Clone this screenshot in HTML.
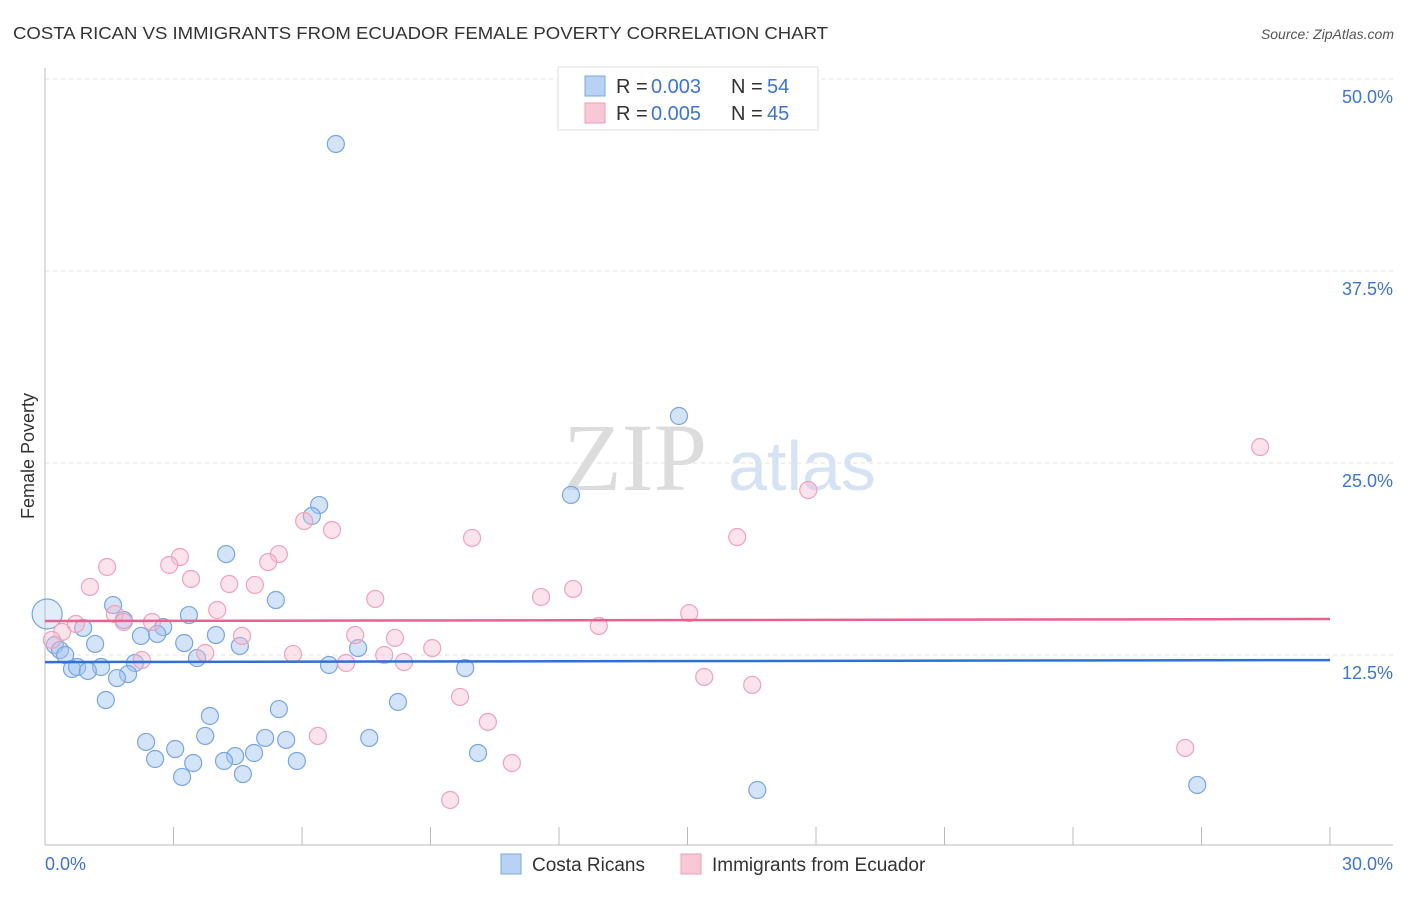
<!DOCTYPE html>
<html><head><meta charset="utf-8"><style>
body{margin:0;background:#fff;font-family:"Liberation Sans",sans-serif}
</style></head><body>
<svg id="c" width="1406" height="892" xmlns="http://www.w3.org/2000/svg" font-family="Liberation Sans, sans-serif">
<text x="13" y="39" font-size="17.5" fill="#333" textLength="815" lengthAdjust="spacingAndGlyphs">COSTA RICAN VS IMMIGRANTS FROM ECUADOR FEMALE POVERTY CORRELATION CHART</text>
<text x="1394" y="39" font-size="14" fill="#555" font-style="italic" text-anchor="end">Source: ZipAtlas.com</text>
<text x="635" y="490" font-size="96" fill="#dcdcdc" style="font-family:'Liberation Serif',serif" text-anchor="middle">ZIP</text>
<text x="802" y="490" font-size="70" fill="#d5e3f5" text-anchor="middle">atlas</text>
<text x="34" y="456" font-size="18" fill="#333" text-anchor="middle" transform="rotate(-90 34 456)">Female Poverty</text>
<g id="grid"></g><g id="pts"></g><g id="trend"></g>
<g>
<rect x="558" y="67" width="260" height="63" fill="#fff" stroke="#ddd"/>
<rect x="585" y="76" width="20" height="20" fill="#b8d2f3" stroke="#7aa6e2"/>
<rect x="585" y="103" width="20" height="20" fill="#f8c8d6" stroke="#ee9fb8"/>
<text x="616" y="93" font-size="20" fill="#333">R = </text><text x="651" y="93" font-size="20" fill="#3d74d6">0.003</text>
<text x="731" y="93" font-size="20" fill="#333">N = </text><text x="767" y="93" font-size="20" fill="#3d74d6">54</text>
<text x="616" y="120" font-size="20" fill="#333">R = </text><text x="651" y="120" font-size="20" fill="#3d74d6">0.005</text>
<text x="731" y="120" font-size="20" fill="#333">N = </text><text x="767" y="120" font-size="20" fill="#3d74d6">45</text>
</g>
<g>
<rect x="501" y="854" width="20" height="20" fill="#b8d2f3" stroke="#7aa6e2"/>
<text x="532" y="871" font-size="19" fill="#333">Costa Ricans</text>
<rect x="681" y="854" width="20" height="20" fill="#f8c8d6" stroke="#ee9fb8"/>
<text x="712" y="871" font-size="19" fill="#333">Immigrants from Ecuador</text>
</g>
</svg>
<script>
const xTicks=[0,3,6,9,12,15,18,21,24,27,30];
const yTicks=[12.5,25,37.5,50];
const yTickLabels=["12.5%","25.0%","37.5%","50.0%"];
const xEndLabels=["0.0%","30.0%"];
const blueX=[6.79,14.80,12.28,6.40,6.23,4.23,5.39,1.59,3.36,1.84,2.76,0.89,2.24,2.62,3.99,3.25,1.17,4.55,0.23,0.35,0.47,7.31,3.55,2.10,1.31,6.63,0.63,0.75,1.00,9.81,1.94,1.68,1.42,8.24,5.46,3.85,2.36,3.74,5.14,5.63,7.57,3.04,4.44,4.88,2.57,3.46,4.18,5.88,10.11,4.62,3.20,16.63,26.90,0.05];
const blueY=[45.77,28.06,22.92,22.26,21.55,19.07,16.08,15.75,15.10,14.78,14.32,14.26,13.74,13.87,13.80,13.28,13.22,13.09,13.15,12.82,12.50,12.95,12.30,11.98,11.72,11.85,11.59,11.72,11.46,11.65,11.26,11.00,9.57,9.44,8.98,8.53,6.84,7.23,7.10,6.97,7.10,6.38,5.92,6.12,5.73,5.47,5.60,5.60,6.12,4.75,4.56,3.71,4.04,15.17];
const pinkX=[28.37,17.82,6.05,6.70,9.97,16.16,3.15,5.46,5.21,1.45,2.90,3.41,1.05,4.30,4.90,12.33,11.58,7.71,4.02,15.04,1.63,2.50,12.93,0.72,1.84,0.40,4.60,7.24,8.17,0.16,9.04,3.74,5.79,7.92,2.26,7.03,8.38,15.39,16.51,9.69,10.34,6.37,26.62,10.90,9.46];
const pinkY=[26.04,23.24,21.22,20.64,20.12,20.18,18.88,19.07,18.55,18.23,18.36,17.45,16.93,17.12,17.06,16.80,16.28,16.15,15.43,15.23,15.17,14.65,14.39,14.52,14.65,14.00,13.74,13.80,13.61,13.48,12.95,12.63,12.56,12.50,12.17,11.98,12.04,11.07,10.55,9.77,8.14,7.23,6.45,5.47,3.06];
const blueTrend=[12.04,12.17];
const pinkTrend=[14.71,14.84];
const NS="http://www.w3.org/2000/svg";
const sx=v=>45+v/30*1285, sy=v=>847-v*15.36;
function mk(t,a,p){const e=document.createElementNS(NS,t);for(const k in a)e.setAttribute(k,a[k]);p.appendChild(e);return e;}
const g=document.getElementById('grid');
yTicks.forEach((v,i)=>{const l=mk('line',{x1:45,x2:1393,y1:sy(v),y2:sy(v),stroke:'#e2e2e2','stroke-dasharray':'4,4'},g);


const t=mk('text',{x:1393,y:sy(v)+24,'font-size':18,fill:'#3d74d6','text-anchor':'end'},g);t.textContent=yTickLabels[i];

});
const ax=mk('line',{x1:45,x2:45,y1:68,y2:845,stroke:'#bbb'},g);


const bx=mk('line',{x1:45,x2:1393,y1:845,y2:845,stroke:'#bbb'},g);


xTicks.forEach(v=>{const l=mk('line',{x1:sx(v),x2:sx(v),y1:827,y2:845,stroke:'#bbb'},g);

});
[[0,'start',45],[30,'end',1393]].forEach((d,i)=>{const t=mk('text',{x:d[2],y:870,'font-size':18,fill:'#3d74d6','text-anchor':d[1]},g);t.textContent=xEndLabels[i];

});
const p=document.getElementById('pts');
blueX.forEach((x,i)=>{const big=i===blueX.length-1;const c=mk('circle',{cx:sx(x),cy:sy(blueY[i]),r:big?15:8.5,fill:big?'rgba(160,196,240,0.3)':'rgba(160,196,240,0.45)',stroke:'#78a5e3','stroke-width':1.2},p);

});
pinkX.forEach((x,i)=>{const c=mk('circle',{cx:sx(x),cy:sy(pinkY[i]),r:8.5,fill:'rgba(246,184,204,0.4)',stroke:'#f0a2bb','stroke-width':1.2},p);

});
const tr=document.getElementById('trend');
const bl=mk('line',{x1:sx(0),x2:sx(30),y1:sy(blueTrend[0]),y2:sy(blueTrend[1]),stroke:'#2f6fd6','stroke-width':2.5},tr);


const pl=mk('line',{x1:sx(0),x2:sx(30),y1:sy(pinkTrend[0]),y2:sy(pinkTrend[1]),stroke:'#e8628e','stroke-width':2.5},tr);


</script>
</body></html>
